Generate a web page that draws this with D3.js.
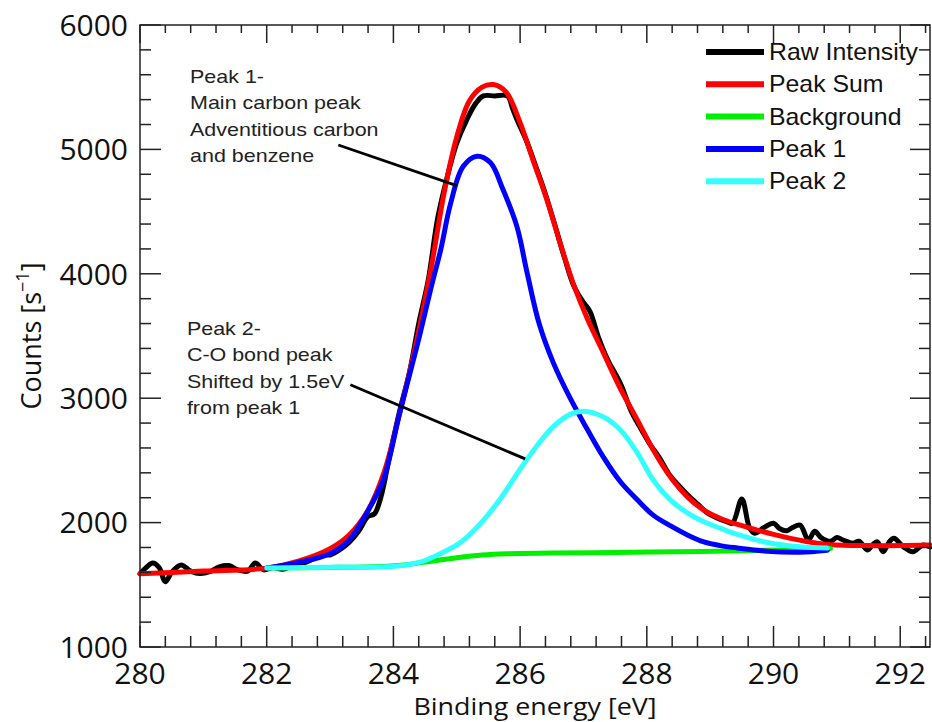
<!DOCTYPE html>
<html>
<head>
<meta charset="utf-8">
<script src="https://cdn.jsdelivr.net/npm/d3@7"></script>
<style>
  body { margin: 0; background: #fff; }
  svg { display: block; }
</style>
</head>
<body>
<svg id="chart" width="932" height="722"></svg>
<script>
// C 1s spectrum: [binding energy (eV), counts per second]
const rawIntensity = [
  [280.0,1590],[280.1,1640],[280.2,1675],[280.3,1640],[280.4,1525],[280.5,1600],
  [280.65,1660],[280.8,1610],[280.95,1590],[281.1,1605],[281.25,1645],[281.4,1655],
  [281.55,1620],[281.7,1610],[281.82,1675],[281.95,1620],[282.1,1640],[282.25,1625],
  [282.4,1650],[282.55,1670],[282.7,1700],[282.85,1745],[283.0,1740],[283.15,1780],
  [283.3,1840],[283.45,1930],[283.6,2050],[283.7,2070],[283.8,2200],[283.95,2560],
  [284.1,2900],[284.25,3200],[284.4,3600],[284.55,3950],[284.7,4450],[284.85,4780],
  [285.0,5050],[285.15,5230],[285.3,5370],[285.42,5430],[285.6,5430],[285.8,5430],
  [285.88,5330],[285.95,5240],[286.1,5070],[286.25,4860],[286.4,4640],[286.55,4390],
  [286.7,4130],[286.85,3900],[287.0,3770],[287.1,3700],[287.25,3470],[287.4,3290],
  [287.5,3200],[287.6,3100],[287.75,2900],[287.9,2760],[288.05,2630],[288.2,2520],
  [288.35,2390],[288.5,2300],[288.65,2220],[288.8,2150],[288.95,2080],[289.1,2040],
  [289.25,2010],[289.35,1995],[289.5,2190],[289.62,1960],[289.7,1915],[289.85,1960],
  [290.0,1995],[290.1,1950],[290.21,1935],[290.3,1960],[290.42,1980],[290.55,1860],
  [290.65,1930],[290.75,1880],[290.9,1850],[291.0,1880],[291.1,1860],[291.25,1835],
  [291.35,1850],[291.48,1780],[291.58,1830],[291.64,1845],[291.73,1765],[291.82,1840],
  [291.9,1875],[292.05,1805],[292.2,1765],[292.36,1820],[292.47,1805]
];

const peakSum = [
  [280.0,1588],[281.0,1610],[282.0,1634],[282.5,1690],[283.0,1790],[283.3,1900],
  [283.6,2100],[283.85,2400],[284.1,2880],[284.37,3470],[284.6,4060],[284.8,4650],
  [285.0,5100],[285.2,5390],[285.4,5500],[285.58,5521],[285.78,5460],[286.0,5215],
  [286.2,4920],[286.42,4600],[286.63,4250],[286.84,3920],[287.06,3640],[287.31,3370],
  [287.58,3080],[287.85,2826],[288.1,2585],[288.37,2368],[288.64,2207],[288.9,2100],
  [289.2,2025],[289.5,1975],[290.0,1905],[290.5,1850],[290.9,1822],[291.5,1815],
  [292.47,1820]
];

const background = [
  [282.0,1636],[283.0,1640],[283.8,1648],[284.2,1662],[284.6,1690],[285.0,1718],
  [285.4,1740],[285.8,1750],[286.5,1755],[287.5,1760],[288.5,1766],[289.5,1774],
  [290.5,1784],[290.9,1792]
];

const peak1 = [
  [282.0,1636],[282.5,1680],[283.0,1750],[283.3,1860],[283.58,2078],[283.84,2343],
  [284.1,2883],[284.37,3414],[284.6,3900],[284.75,4200],[284.9,4560],[285.1,4862],
  [285.32,4945],[285.53,4894],[285.73,4677],[285.95,4379],[286.11,4009],[286.3,3600],
  [286.52,3290],[286.79,3000],[287.06,2750],[287.31,2530],[287.58,2330],[287.85,2183],
  [288.1,2060],[288.37,1975],[288.64,1901],[288.9,1845],[289.16,1815],[289.43,1796],
  [289.9,1770],[290.42,1762],[290.85,1778]
];

const peak2 = [
  [282.0,1636],[283.0,1642],[284.0,1648],[284.4,1680],[284.63,1724],[285.05,1837],
  [285.37,1990],[285.7,2200],[286.0,2430],[286.27,2620],[286.52,2770],[286.79,2870],
  [287.0,2895],[287.31,2850],[287.58,2746],[287.85,2561],[288.1,2343],[288.37,2183],
  [288.64,2078],[288.9,2006],[289.16,1955],[289.43,1905],[289.9,1840],[290.42,1805],
  [290.85,1795]
];

const seriesNames  = ["Raw Intensity", "Peak Sum", "Background", "Peak 1", "Peak 2"];
const seriesColors = ["#000000", "#ff0000", "#00ee00", "#0000ff", "#33ffff"];

const xMajorTicks = [280, 282, 284, 286, 288, 290, 292];
const yMajorTicks = [1000, 2000, 3000, 4000, 5000, 6000];

const peak1Note = ["Peak 1-", "Main carbon peak", "Adventitious carbon", "and benzene"];
const peak2Note = ["Peak 2-", "C-O bond peak", "Shifted by 1.5eV", "from peak 1"];

// ---- layout ----
const svg = d3.select("#chart");
const x = d3.scaleLinear().domain([280, 292.47]).range([140, 930]);
const y = d3.scaleLinear().domain([1000, 6000]).range([647, 25]);
const [x0, x1] = x.range();
const [y0, y1] = y.range();

svg.append("rect").attr("width", 932).attr("height", 722).attr("fill", "#fff");

// ---- curves ----
const line = d3.line()
  .x(d => x(d[0]))
  .y(d => y(d[1]))
  .curve(d3.curveCatmullRom.alpha(0.5));

const seriesData = [rawIntensity, peakSum, background, peak1, peak2];
const curves = svg.append("g").attr("fill", "none")
  .attr("stroke-linejoin", "round").attr("stroke-linecap", "round");
seriesData.forEach((data, i) => {
  curves.append("path")
    .attr("d", line(data))
    .attr("stroke", seriesColors[i])
    .attr("stroke-width", 5);
});

// ---- frame and inward ticks on all four sides ----
const axisColor = "#222";
const frame = svg.append("g").attr("stroke", axisColor).attr("stroke-width", 1.5);
frame.append("rect")
  .attr("x", x0).attr("y", y1).attr("width", x1 - x0).attr("height", y0 - y1)
  .attr("fill", "none");

const xMinor = d3.range(0, 32).map(i => +(280 + 0.4 * i).toFixed(1))
  .filter(v => v <= 292.47 && !xMajorTicks.includes(v));
const yMinor = d3.range(1000, 6001, 200).filter(v => !yMajorTicks.includes(v));

function vTicks(values, len, yBase, dir) {
  frame.selectAll(null).data(values).join("line")
    .attr("x1", d => x(d)).attr("x2", d => x(d))
    .attr("y1", yBase).attr("y2", yBase + dir * len);
}
function hTicks(values, len, xBase, dir) {
  frame.selectAll(null).data(values).join("line")
    .attr("y1", d => y(d)).attr("y2", d => y(d))
    .attr("x1", xBase).attr("x2", xBase + dir * len);
}
vTicks(xMajorTicks, 21, y0, -1);
vTicks(xMinor, 11, y0, -1);
vTicks(xMajorTicks, 18, y1, 1);
vTicks(xMinor, 8, y1, 1);
hTicks(yMajorTicks, 21, x0, 1);
hTicks(yMinor, 11, x0, 1);
hTicks(yMajorTicks, 20, x1, -1);
hTicks(yMinor, 11, x1, -1);

// ---- tick labels ----
const tickFont = "'Open Sans', 'Noto Sans', sans-serif";
svg.append("g")
  .attr("font-family", tickFont).attr("font-size", 30).attr("fill", "#111")
  .attr("text-anchor", "middle")
  .selectAll("text").data(xMajorTicks).join("text")
  .attr("x", d => x(d)).attr("y", y0 + 37)
  .text(d => d);

svg.append("g")
  .attr("font-family", tickFont).attr("font-size", 30).attr("fill", "#111")
  .attr("text-anchor", "end")
  .selectAll("text").data(yMajorTicks).join("text")
  .attr("x", x0 - 12).attr("y", d => y(d)).attr("dy", "0.36em")
  .text(d => d);

// ---- axis titles ----
svg.append("text")
  .attr("transform", `translate(${(x0 + x1) / 2},${y0 + 68}) scale(1.12,1)`)
  .attr("font-family", tickFont).attr("font-size", 24).attr("fill", "#111")
  .attr("text-anchor", "middle")
  .text("Binding energy [eV]");

const yTitle = svg.append("text")
  .attr("transform", `translate(41,${(y0 + y1) / 2}) rotate(-90)`)
  .attr("font-family", tickFont).attr("font-size", 27).attr("fill", "#111")
  .attr("text-anchor", "middle");
yTitle.append("tspan").text("Counts [s");
yTitle.append("tspan").attr("font-size", 18).attr("dy", -12).text("\u22121");
yTitle.append("tspan").attr("dy", 12).text("]");

// ---- legend ----
const legendFont = "'Liberation Sans', Arial, sans-serif";
const legend = svg.append("g").attr("transform", "translate(706,52)");
seriesNames.forEach((name, i) => {
  const row = legend.append("g").attr("transform", `translate(0,${i * 32.3})`);
  row.append("line")
    .attr("x1", 0).attr("x2", 58).attr("y1", 0).attr("y2", 0)
    .attr("stroke", seriesColors[i]).attr("stroke-width", 6);
  row.append("text")
    .attr("transform", "translate(63,8) scale(1.08,1)")
    .attr("font-family", legendFont).attr("font-size", 23).attr("fill", "#111")
    .text(name);
});

// ---- annotations ----
const noteFont = "'Liberation Sans', Arial, sans-serif";
function note(lines, ex, cy, from, to) {
  const t = svg.append("text")
    .attr("transform", `translate(${x(ex)},${y(cy)}) scale(1.13,1)`)
    .attr("font-family", noteFont).attr("font-size", 19).attr("fill", "#222");
  lines.forEach((s, i) => {
    t.append("tspan").attr("x", 0).attr("y", i * 26.4).text(s);
  });
  svg.append("line")
    .attr("x1", x(from[0])).attr("y1", y(from[1]))
    .attr("x2", x(to[0])).attr("y2", y(to[1]))
    .attr("stroke", "#000").attr("stroke-width", 2.8);
}
note(peak1Note, 280.79, 5535, [283.13, 5035], [285.0, 4709]);
note(peak2Note, 280.74, 3508, [283.32, 3108], [286.08, 2512]);
</script>
</body>
</html>
